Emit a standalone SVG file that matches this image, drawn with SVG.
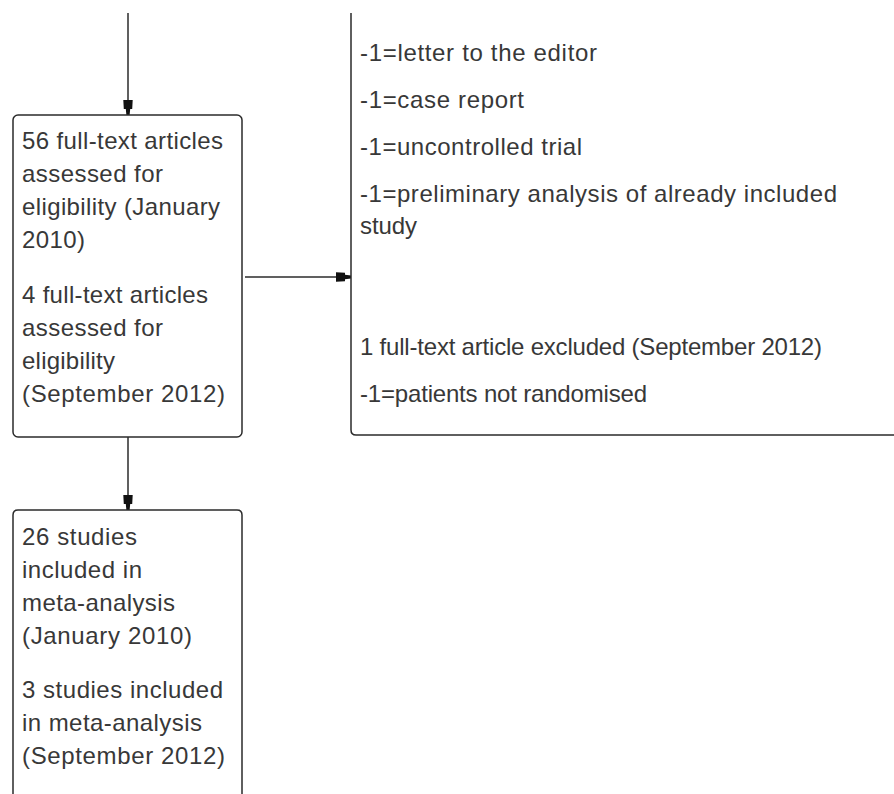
<svg xmlns="http://www.w3.org/2000/svg" width="894" height="794" viewBox="0 0 894 794">
<style>
.box{fill:#fff;stroke:#2b2b2b;stroke-width:1.5}
.ln{fill:none;stroke:#2b2b2b;stroke-width:1.5}
.t{font-family:"Liberation Sans",Arial,sans-serif;font-size:24px;fill:#383838}
</style>
<defs>
<marker id="ah" markerUnits="userSpaceOnUse" markerWidth="16" markerHeight="12" refX="15" refY="6" orient="auto" viewBox="0 0 16 12">
<path d="M0,1.3 L9,1.8 L9,3.8 L15,4.4 L15,7.6 L9,8.2 L9,10.2 L0,10.7 Z" fill="#111"/>
</marker>
</defs>
<rect width="894" height="794" fill="#fff"/>
<g id="connectors">
<line class="ln" x1="128" y1="13" x2="128" y2="115" marker-end="url(#ah)"/>
<line class="ln" x1="128" y1="437" x2="128" y2="510" marker-end="url(#ah)"/>
<line class="ln" x1="245" y1="277" x2="351" y2="277" marker-end="url(#ah)"/>
</g>
<g id="node-assessed">
<rect class="box" x="13" y="115" width="229" height="322" rx="5"/>
<text class="t" x="22" y="149" textLength="201" lengthAdjust="spacing">56 full-text articles</text>
<text class="t" x="22" y="182" textLength="141" lengthAdjust="spacing">assessed for</text>
<text class="t" x="22" y="215" textLength="198" lengthAdjust="spacing">eligibility (January</text>
<text class="t" x="22" y="248" textLength="63" lengthAdjust="spacing">2010)</text>
<text class="t" x="22" y="303" textLength="186" lengthAdjust="spacing">4 full-text articles</text>
<text class="t" x="22" y="336" textLength="141" lengthAdjust="spacing">assessed for</text>
<text class="t" x="22" y="369" textLength="93" lengthAdjust="spacing">eligibility</text>
<text class="t" x="22" y="402" textLength="203" lengthAdjust="spacing">(September 2012)</text>
</g>
<g id="node-excluded">
<path class="box" d="M351,13 L351,430 Q351,435 356,435 L894,435"/>
<text class="t" x="360" y="61" textLength="237" lengthAdjust="spacing">-1=letter to the editor</text>
<text class="t" x="360" y="108" textLength="164" lengthAdjust="spacing">-1=case report</text>
<text class="t" x="360" y="155" textLength="222" lengthAdjust="spacing">-1=uncontrolled trial</text>
<text class="t" x="360" y="202" textLength="477" lengthAdjust="spacing">-1=preliminary analysis of already included</text>
<text class="t" x="360" y="234" textLength="57" lengthAdjust="spacing">study</text>
<text class="t" x="360" y="355" textLength="462" lengthAdjust="spacing">1 full-text article excluded (September 2012)</text>
<text class="t" x="360" y="402" textLength="287" lengthAdjust="spacing">-1=patients not randomised</text>
</g>
<g id="node-included">
<path class="box" d="M13,794 L13,515 Q13,510 18,510 L237,510 Q242,510 242,515 L242,794"/>
<text class="t" x="22" y="545" textLength="115" lengthAdjust="spacing">26 studies</text>
<text class="t" x="22" y="578" textLength="120" lengthAdjust="spacing">included in</text>
<text class="t" x="22" y="611" textLength="153" lengthAdjust="spacing">meta-analysis</text>
<text class="t" x="22" y="644" textLength="170" lengthAdjust="spacing">(January 2010)</text>
<text class="t" x="22" y="698" textLength="201" lengthAdjust="spacing">3 studies included</text>
<text class="t" x="22" y="731" textLength="180" lengthAdjust="spacing">in meta-analysis</text>
<text class="t" x="22" y="764" textLength="203" lengthAdjust="spacing">(September 2012)</text>
</g>
</svg>
